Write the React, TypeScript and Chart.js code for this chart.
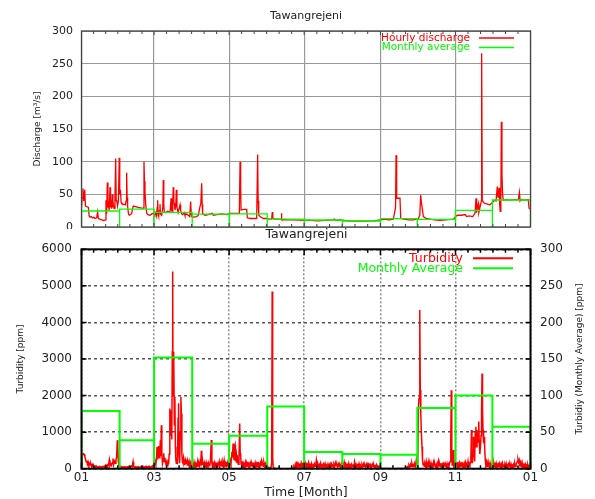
import React, { useEffect, useRef } from 'react';
import { Chart, registerables } from 'chart.js';

Chart.register(...registerables);

const FONT = '"DejaVu Sans", sans-serif';
const TEXT = '#222';
const RED = '#ff0000';
const GREEN = '#00ff00';

// Days of year at which each month starts (Jan .. Dec, then next Jan)
const monthStarts = [0, 31, 59, 90, 120, 151, 181, 212, 243, 273, 304, 334, 365];
// Labelled x ticks (every second month)
const tickDays = [0, 59, 120, 181, 243, 304, 365];
const tickLabels = ['01', '03', '05', '07', '09', '11', '01'];

// Monthly averages
const dischargeMonthly = [24.5, 27.5, 22.5, 19.8, 20, 12.2, 10.7, 9.2, 12.8, 11.7, 25.5, 41.3];
const turbidityMonthly = [79, 39, 152, 34, 45, 85, 23, 20, 19, 83, 100, 57.5];

// Hourly discharge [day, m3/s]
const discharge: [number, number][] = [
  [0, 30], [0.5, 45], [1.2, 59], [1.8, 40], [2.6, 57], [3.2, 32], [4.5, 31], [5.6, 30], [6.2, 17], [7, 15], [8, 16], [9, 14],
  [10, 15], [11, 13], [12.3, 14], [13.1, 23], [13.7, 13], [15, 12], [16.4, 11], [18, 10], [19.5, 11], [19.9, 41], [20.4, 20],
  [21, 68], [21.5, 30], [21.8, 36], [22.5, 25], [23.2, 61], [23.6, 30], [24, 41], [24.5, 28], [25, 50], [25.5, 30], [25.9, 35],
  [26.5, 28], [27.2, 45], [27.8, 105], [28.2, 40], [28.6, 41], [29.3, 32], [30, 40], [30.7, 106], [31.1, 50], [31.6, 57],
  [32.2, 38], [32.7, 36], [34, 35], [35.5, 34], [36.3, 40], [36.7, 83], [37.1, 45], [37.5, 31], [38.2, 20], [38.9, 18], [40, 19],
  [40.8, 21], [41.5, 28], [42.1, 32], [44, 31], [46, 30], [48.9, 29], [50, 29], [50.8, 100], [51.2, 70], [51.6, 54], [52.2, 35],
  [53, 21], [54, 19], [55.7, 18], [57, 20], [58.4, 21], [59.3, 19], [59.7, 18], [60.5, 22], [61.1, 17], [61.5, 30], [61.9, 41],
  [62.3, 20], [62.7, 17], [63.4, 25], [63.8, 35], [64.2, 20], [65.2, 18], [66.1, 30], [66.5, 72], [66.9, 35], [67.3, 23],
  [68.5, 22], [70, 24], [71.9, 23], [72.3, 30], [72.8, 44], [73.2, 25], [73.8, 24], [74.2, 40], [74.6, 61], [75, 38], [75.4, 36],
  [76, 26], [76.6, 32], [77.1, 57], [77.6, 30], [78.5, 22], [80.1, 34], [80.6, 25], [81.4, 20], [82.3, 19], [83.5, 22], [84.1, 18],
  [85.5, 20], [86.8, 18], [88, 16], [88.7, 39], [89.2, 20], [89.6, 16], [91, 15], [93.6, 16], [95, 18], [96.3, 31], [97, 36],
  [97.7, 67], [98.1, 35], [98.5, 20], [99.5, 19], [100.4, 18], [103, 19], [106.3, 21], [107.1, 18], [110, 19], [114, 20],
  [118, 19], [120.7, 21], [124, 21], [128.3, 21], [128.9, 100], [129.4, 60], [129.7, 26], [132, 27], [134.3, 27], [134.8, 14],
  [137, 13], [140, 13], [142.4, 13], [143.2, 111], [143.6, 40], [144.1, 18], [146, 15], [148, 13], [150.6, 13], [152, 12],
  [154.6, 12], [155.1, 23], [155.5, 14], [157, 12], [160, 12], [162.2, 12], [162.5, 21], [162.9, 11], [165, 11.5], [168, 11],
  [172, 11], [177.6, 10.5], [181, 10], [186, 10], [192, 9.5], [198, 10], [204.7, 11], [205.5, 12], [207, 10], [210.1, 11],
  [214, 10], [220, 9], [226, 9.5], [232, 9], [238, 9.5], [242.7, 11], [246, 12], [250, 11], [253.5, 12], [255.3, 30], [255.7, 110],
  [256.2, 44], [258.9, 44], [259.5, 13], [262, 12], [266, 11], [270, 11], [273.8, 13], [275, 18], [275.7, 49], [276.3, 38],
  [277.1, 27], [277.9, 16], [280, 13], [283.3, 12], [287, 11], [291.4, 10], [296, 11], [302.3, 12], [304.2, 16], [305.5, 18],
  [309, 18], [312, 19], [313.1, 16], [315, 17], [318, 16], [319.9, 21], [320.7, 44], [321.2, 22], [321.8, 30], [322.6, 36],
  [323, 22], [323.4, 25], [324.5, 35], [325, 40], [325.3, 266], [325.8, 41], [326.1, 40], [327, 37], [328, 36], [330, 35],
  [332.1, 34], [334.8, 39], [336, 41], [337, 40], [338, 62], [338.6, 45], [339.4, 60], [339.9, 35], [340.4, 24], [340.9, 40],
  [341.3, 161], [341.8, 82], [342.3, 50], [342.9, 41], [345, 42], [348, 41], [352, 42], [355.1, 42], [356, 53], [356.5, 40],
  [357.3, 42], [360, 41], [363.2, 42], [363.8, 29], [364.5, 28],
];

// Turbidity [day, ppm]
const turbidity: [number, number][] = [
  [0, 50], [0.4, 400], [1, 380], [1.6, 410], [2.2, 390], [2.8, 330], [3.3, 250], [3.8, 190], [4.3, 220], [4.8, 120], [5.4, 180],
  [6, 90], [6.5, 140], [7, 100], [7.6, 130], [8.2, 60], [8.8, 110], [9.4, 50], [10, 80], [10.6, 40], [11.2, 70], [11.8, 30],
  [12.4, 60], [13, 40], [13.6, 50], [14.2, 30], [14.8, 60], [15.4, 40], [16, 55], [16.6, 35], [17.2, 60], [17.8, 45], [18.4, 70],
  [19, 40], [19.6, 90], [20.2, 50], [20.8, 100], [21.4, 60], [22, 120], [22.6, 240], [23.1, 80], [23.7, 130], [24.3, 90],
  [25, 160], [25.6, 280], [26.1, 110], [26.8, 200], [27.4, 150], [28, 260], [28.5, 300], [29.1, 780], [29.5, 600], [29.9, 200],
  [30.4, 120], [31, 60], [31.6, 40], [32.2, 60], [32.8, 30], [33.4, 50], [34, 35], [34.6, 55], [35.2, 30], [35.8, 45], [36.4, 25],
  [37, 50], [37.6, 35], [38.2, 60], [38.8, 30], [39.4, 45], [40, 40], [40.6, 70], [41.2, 50], [41.9, 190], [42.4, 60], [43, 40],
  [43.6, 55], [44.2, 30], [44.8, 50], [45.4, 35], [46, 55], [46.6, 30], [47.2, 45], [47.8, 40], [48.4, 60], [49, 35], [49.6, 50],
  [50.2, 30], [50.8, 55], [51.4, 40], [52, 60], [52.6, 35], [53.2, 50], [53.8, 30], [54.4, 60], [55, 40], [55.6, 55], [56.2, 35],
  [56.8, 60], [57.4, 45], [58, 70], [58.6, 50], [59.2, 120], [59.8, 195], [60.4, 100], [61, 300], [61.4, 600], [61.8, 250],
  [62.3, 500], [62.8, 620], [63.2, 300], [63.7, 450], [64.1, 780], [64.5, 350], [64.9, 1190], [65.3, 400], [65.8, 150],
  [66.3, 250], [66.8, 420], [67.3, 200], [67.8, 300], [68.3, 180], [68.8, 100], [69.3, 150], [69.8, 90], [70.3, 250], [70.8, 120],
  [71.3, 400], [71.8, 1645], [72.2, 1200], [72.6, 900], [73, 1600], [73.4, 800], [73.8, 3200], [74.1, 5390], [74.4, 2000],
  [74.8, 3200], [75.1, 3150], [75.5, 1200], [75.9, 1970], [76.3, 600], [76.7, 240], [77.1, 150], [77.5, 300], [78, 120],
  [78.5, 1377], [78.9, 1790], [79.3, 400], [79.8, 150], [80.3, 1000], [80.8, 1970], [81.2, 1500], [81.6, 400], [82, 200],
  [82.5, 150], [83, 300], [83.5, 190], [84, 100], [84.5, 230], [85, 150], [85.5, 250], [86, 100], [86.5, 190], [87, 120],
  [87.5, 200], [88, 90], [88.5, 160], [89, 60], [89.5, 140], [90, 80], [90.5, 150], [91, 60], [91.5, 180], [92, 90], [92.5, 140],
  [93, 50], [93.5, 120], [94, 70], [94.5, 160], [95, 80], [95.5, 130], [96, 60], [96.5, 200], [97, 150], [97.4, 490], [97.8, 100],
  [98.3, 250], [98.8, 120], [99.3, 180], [99.8, 60], [100.3, 140], [100.8, 90], [101.3, 170], [101.8, 70], [102.3, 130],
  [102.8, 60], [103.3, 150], [103.8, 80], [104.3, 120], [104.8, 200], [105.5, 785], [106, 150], [106.5, 60], [107, 140],
  [107.5, 90], [108, 160], [108.5, 50], [109, 130], [109.5, 80], [110, 170], [110.5, 60], [111, 140], [111.5, 100], [112, 190],
  [112.5, 70], [113, 150], [113.5, 90], [114, 130], [114.5, 60], [115, 160], [115.5, 80], [116, 220], [116.5, 100], [117, 140],
  [117.5, 60], [118, 180], [118.5, 90], [119, 130], [119.5, 70], [120, 150], [120.5, 80], [121, 200], [121.5, 120], [122.3, 464],
  [122.7, 300], [123.2, 690], [123.6, 500], [124, 250], [124.4, 600], [124.8, 650], [125.2, 200], [125.9, 373], [126.4, 150],
  [127, 250], [127.5, 120], [128, 200], [128.6, 1236], [129, 418], [129.4, 327], [129.8, 120], [130.3, 200], [130.8, 80],
  [131.3, 150], [131.8, 60], [132.3, 130], [132.8, 90], [133.3, 170], [133.8, 60], [134.3, 140], [134.8, 80], [135.3, 190],
  [135.8, 70], [136.3, 120], [136.8, 50], [137.3, 150], [137.8, 90], [138.3, 130], [138.8, 60], [139.3, 170], [139.8, 80],
  [140.3, 120], [140.8, 50], [141.3, 160], [141.8, 90], [142.3, 140], [142.8, 70], [143.3, 180], [143.8, 60], [144.3, 130],
  [144.8, 90], [145.3, 150], [145.8, 60], [146.3, 200], [146.8, 100], [147.3, 130], [147.8, 70], [148.3, 160], [148.8, 80],
  [149.3, 140], [149.8, 60], [150.3, 120], [150.8, 80], [151.3, 40], [152, 20], [153, 30], [154, 20], [154.6, 150], [155, 4843],
  [155.4, 300], [155.8, 50], [156.5, 20], [157.5, 10], [158.5, 5], [160, 5], [162, 0], [164, 0], [166, 0], [168, 0], [170, 5],
  [172, 10], [172.6, 60], [173.2, 20], [173.8, 120], [174.4, 40], [175, 200], [175.6, 70], [176.2, 130], [176.8, 50],
  [177.4, 110], [178, 60], [178.6, 160], [179.2, 80], [179.8, 120], [180.4, 50], [181, 140], [181.6, 80], [182.2, 150],
  [182.8, 50], [183.4, 120], [184, 70], [184.6, 160], [185.2, 40], [185.8, 110], [186.4, 60], [187, 140], [187.6, 50],
  [188.2, 100], [188.8, 40], [189.4, 130], [190, 70], [190.5, 120], [190.9, 230], [191.4, 90], [192, 140], [192.6, 50],
  [193.2, 110], [193.8, 40], [194.4, 150], [195, 60], [195.6, 100], [196.2, 30], [196.8, 120], [197.4, 60], [198, 140],
  [198.6, 50], [199.2, 90], [199.8, 40], [200.4, 130], [201, 60], [201.6, 110], [202.2, 30], [202.8, 190], [203.4, 70],
  [204, 100], [204.6, 40], [205.2, 120], [205.8, 60], [206.4, 160], [207, 80], [207.6, 110], [208.2, 40], [208.8, 130],
  [209.4, 60], [210, 100], [210.6, 40], [211.2, 140], [211.8, 70], [212.4, 120], [213, 50], [213.6, 180], [214.2, 90],
  [214.8, 130], [215.4, 40], [216, 110], [216.6, 60], [217.2, 140], [217.8, 30], [218.4, 100], [219, 50], [219.6, 120],
  [220.2, 60], [220.8, 90], [221.4, 40], [222, 190], [222.6, 80], [223.2, 120], [223.8, 30], [224.4, 100], [225, 60],
  [225.6, 140], [226.2, 50], [226.8, 90], [227.4, 30], [228, 110], [228.6, 50], [229.2, 130], [229.8, 60], [230.4, 100],
  [231, 40], [231.6, 120], [232.2, 50], [232.8, 170], [233.4, 70], [234, 110], [234.6, 40], [235.2, 90], [235.8, 50],
  [236.4, 120], [237, 60], [237.6, 100], [238.2, 30], [238.8, 80], [239.4, 40], [240, 110], [240.6, 50], [241.2, 70],
  [241.8, 30], [242.4, 60], [243, 20], [244, 10], [246, 5], [250, 5], [254, 0], [258, 5], [262, 10], [264, 20], [265, 60],
  [265.6, 30], [266.2, 90], [266.8, 40], [267.4, 120], [268, 60], [268.6, 150], [269.2, 70], [269.8, 110], [270.4, 50],
  [271, 130], [271.6, 80], [272.2, 240], [272.8, 100], [273.4, 236], [273.9, 1690], [274.4, 1924], [275, 4340], [275.4, 2150],
  [275.8, 1510], [276.3, 964], [276.8, 600], [277.2, 236], [277.7, 100], [278.2, 160], [278.7, 60], [279.2, 140], [279.7, 80],
  [280.2, 190], [280.7, 70], [281.2, 130], [281.7, 50], [282.2, 160], [282.7, 90], [283.2, 120], [283.7, 40], [284.2, 150],
  [284.7, 70], [285.2, 110], [285.7, 50], [286.2, 170], [286.7, 80], [287.2, 130], [287.7, 60], [288.2, 100], [288.7, 40],
  [289.2, 140], [289.7, 70], [290.2, 190], [290.7, 80], [291.2, 120], [291.7, 50], [292.2, 150], [292.7, 60], [293.2, 110],
  [293.7, 40], [294.2, 130], [294.7, 80], [295.2, 170], [295.7, 60], [296.2, 100], [296.7, 50], [297.2, 140], [297.7, 70],
  [298.2, 120], [298.7, 60], [299.2, 160], [299.7, 200], [300.2, 800], [300.6, 2145], [301, 300], [301.4, 100], [301.9, 236],
  [302.3, 510], [302.7, 80], [303.2, 150], [303.7, 60], [304.2, 130], [304.7, 100], [305.2, 180], [305.7, 60], [306.2, 130],
  [306.7, 70], [307.2, 150], [307.7, 50], [308.2, 120], [308.7, 80], [309.2, 190], [309.7, 60], [310.2, 110], [310.7, 40],
  [311.2, 140], [311.7, 70], [312.2, 160], [312.7, 50], [313.2, 120], [313.7, 90], [314.2, 200], [314.7, 60], [315.2, 130],
  [315.7, 80], [316.1, 170], [316.5, 250], [317, 1055], [317.4, 300], [317.8, 150], [318.3, 500], [318.7, 873], [319.1, 400],
  [319.6, 200], [320.1, 1010], [320.6, 1145], [321, 600], [321.5, 1055], [322, 700], [322.5, 900], [322.9, 1290], [323.3, 782],
  [323.8, 400], [324.3, 600], [324.8, 900], [325.2, 1500], [325.6, 2600], [326, 1600], [326.4, 1055], [326.9, 700], [327.3, 875],
  [327.7, 600], [328.2, 250], [328.7, 100], [329.2, 180], [329.7, 60], [330.2, 140], [330.7, 80], [331.2, 120], [331.7, 40],
  [332.2, 150], [332.7, 70], [333.2, 110], [333.7, 50], [334.2, 130], [334.7, 60], [335.2, 160], [335.7, 80], [336.2, 120],
  [336.7, 40], [337.2, 140], [337.7, 70], [338.2, 110], [338.7, 50], [339.2, 170], [339.7, 60], [340.2, 100], [340.7, 40],
  [341.2, 130], [341.7, 80], [342.2, 150], [342.7, 60], [343.2, 120], [343.7, 30], [344.2, 110], [344.7, 60], [345.2, 140],
  [345.7, 50], [346.2, 90], [346.7, 40], [347.2, 120], [347.7, 70], [348.2, 100], [348.7, 30], [349.2, 130], [349.7, 60],
  [350.2, 90], [350.7, 40], [351.2, 110], [351.7, 50], [352.2, 140], [352.7, 70], [353.2, 100], [353.7, 150], [354.3, 200],
  [354.8, 254], [355.3, 180], [355.8, 237], [356.3, 120], [356.8, 160], [357.3, 60], [357.8, 110], [358.3, 40], [358.8, 130],
  [359.3, 70], [359.8, 100], [360.3, 30], [360.8, 120], [361.3, 60], [361.8, 90], [362.3, 40], [362.8, 110], [363.3, 50],
  [363.8, 80], [364.3, 30], [364.8, 60],
];

function boxPoints(vals: number[]) {
  const pts: { x: number; y: number }[] = [];
  vals.forEach((v, i) => {
    const s = monthStarts[i];
    const e = monthStarts[i + 1];
    pts.push({ x: s, y: 0 }, { x: s, y: v }, { x: e, y: v }, { x: e, y: 0 });
  });
  return pts;
}

function minorTickDays() {
  const out: number[] = [];
  for (let i = 0; i < tickDays.length - 1; i++) {
    const a = tickDays[i];
    const b = tickDays[i + 1];
    for (let k = 0; k < 6; k++) out.push(a + ((b - a) * k) / 6);
  }
  out.push(tickDays[tickDays.length - 1]);
  return out;
}

const plainNumber = (v: any) => String(v);

const fixVertical = (width: number) => (s: any) => {
  s.width = width;
  s.paddingTop = 0;
  s.paddingBottom = 0;
};

const decor = {
  id: 'decor',
  afterDatasetsDraw(chart: any, _args: any, o: any) {
    const { ctx, chartArea } = chart;
    const { left, right, top, bottom } = chartArea;
    const xs = chart.scales.x;
    ctx.save();
    // tick marks
    ctx.strokeStyle = o.frameColor;
    ctx.lineWidth = o.tickWidth;
    ctx.beginPath();
    minorTickDays().forEach((d) => {
      const px = xs.getPixelForValue(d);
      const len = tickDays.includes(d) ? o.majorLen : o.minorLen;
      ctx.moveTo(px, bottom);
      ctx.lineTo(px, bottom - len);
      ctx.moveTo(px, top);
      ctx.lineTo(px, top + len);
    });
    if (o.yTickLen) {
      const ys = chart.scales.y;
      ys.ticks.forEach((t: any) => {
        const py = ys.getPixelForValue(t.value);
        ctx.moveTo(left, py);
        ctx.lineTo(left + o.yTickLen, py);
        ctx.moveTo(right, py);
        ctx.lineTo(right - o.yTickLen, py);
      });
    }
    ctx.stroke();
    // frame
    ctx.lineWidth = o.frameWidth;
    ctx.strokeRect(left, top, right - left, bottom - top);
    // title
    ctx.fillStyle = TEXT;
    ctx.font = `${o.titleSize}px ${FONT}`;
    ctx.textAlign = 'center';
    ctx.textBaseline = 'middle';
    ctx.fillText(o.title, o.titleX, o.titleY);
    // legend
    o.legend.forEach((it: any) => {
      ctx.font = `${o.legendSize}px ${FONT}`;
      ctx.fillStyle = it.color;
      ctx.textAlign = 'right';
      ctx.textBaseline = 'middle';
      ctx.fillText(it.text, o.legendTextX, it.y);
      ctx.strokeStyle = it.color;
      ctx.lineWidth = o.legendLineWidth;
      ctx.beginPath();
      ctx.moveTo(o.legendLineX0, it.y);
      ctx.lineTo(o.legendLineX1, it.y);
      ctx.stroke();
    });
    // right axis title (reads bottom to top)
    if (o.rightTitle) {
      ctx.save();
      ctx.translate(o.rightTitle.x, (top + bottom) / 2);
      ctx.rotate(-Math.PI / 2);
      ctx.fillStyle = TEXT;
      ctx.font = `${o.rightTitle.size}px ${FONT}`;
      ctx.textAlign = 'center';
      ctx.textBaseline = 'middle';
      ctx.fillText(o.rightTitle.text, 0, 0);
      ctx.restore();
    }
    ctx.restore();
  },
};

const AREA_LEFT = 81.5;
const AREA_RIGHT_PAD = 64.5;
const TOP_H = 229;
const BOT_TOP = 225;
const BOT_H = 499 - BOT_TOP;

function topConfig(): any {
  return {
    type: 'line',
    data: {
      datasets: [
        {
          label: 'Monthly average',
          data: boxPoints(dischargeMonthly),
          borderColor: GREEN,
          borderWidth: 1.3,
          pointRadius: 0,
          tension: 0,
          fill: false,
          order: 1,
        },
        {
          label: 'Hourly discharge',
          data: discharge.map(([x, y]) => ({ x, y })),
          borderColor: RED,
          borderWidth: 1.3,
          pointRadius: 0,
          tension: 0,
          fill: false,
          order: 2,
        },
      ],
    },
    options: {
      animation: false,
      responsive: false,
      events: [],
      layout: { padding: { left: 0, right: AREA_RIGHT_PAD, top: 31, bottom: 0 } },
      plugins: {
        legend: { display: false },
        tooltip: { enabled: false },
        decor: {
          frameColor: '#444',
          frameWidth: 1.3,
          tickWidth: 1,
          majorLen: 4,
          minorLen: 3,
          yTickLen: 0,
          title: 'Tawangrejeni',
          titleSize: 11,
          titleX: 306,
          titleY: 16.5,
          legendSize: 10.5,
          legendTextX: 470,
          legendLineX0: 479,
          legendLineX1: 514,
          legendLineWidth: 1.3,
          legend: [
            { text: 'Hourly discharge', color: RED, y: 38 },
            { text: 'Monthly average', color: GREEN, y: 47.5 },
          ],
        },
      },
      scales: {
        x: {
          type: 'linear',
          min: 0,
          max: 365,
          afterBuildTicks: (s: any) => {
            s.ticks = tickDays.map((v) => ({ value: v }));
          },
          afterFit: (s: any) => {
            s.height = 2;
          },
          ticks: { display: false },
          grid: { color: '#999', lineWidth: 1.2, drawTicks: false },
          border: { display: false },
        },
        y: {
          min: 0,
          max: 300,
          afterFit: fixVertical(AREA_LEFT),
          ticks: { stepSize: 50, padding: 8.5, color: TEXT, font: { family: FONT, size: 11 }, callback: plainNumber },
          grid: { color: '#999', lineWidth: 1, drawTicks: false },
          border: { display: false },
          title: {
            display: true,
            text: 'Discharge [m³/s]',
            color: TEXT,
            font: { family: FONT, size: 9 },
            padding: { top: 32, bottom: 0 },
          },
        },
      },
    },
    plugins: [decor],
  };
}

function bottomConfig(): any {
  return {
    type: 'line',
    data: {
      datasets: [
        {
          label: 'Monthly Average',
          data: boxPoints(turbidityMonthly),
          yAxisID: 'y1',
          borderColor: GREEN,
          borderWidth: 2,
          pointRadius: 0,
          tension: 0,
          fill: false,
          order: 1,
        },
        {
          label: 'Turbidity',
          data: turbidity.map(([x, y]) => ({ x, y })),
          yAxisID: 'y',
          borderColor: RED,
          borderWidth: 1.5,
          pointRadius: 0,
          tension: 0,
          fill: false,
          order: 2,
        },
      ],
    },
    options: {
      animation: false,
      responsive: false,
      events: [],
      layout: { padding: { left: 0, right: 0, top: 249.3 - BOT_TOP, bottom: 0 } },
      plugins: {
        legend: { display: false },
        tooltip: { enabled: false },
        decor: {
          frameColor: '#000',
          frameWidth: 2,
          tickWidth: 1.5,
          majorLen: 6,
          minorLen: 3.5,
          yTickLen: 5,
          title: 'Tawangrejeni',
          titleSize: 12.5,
          titleX: 306.5,
          titleY: 235 - BOT_TOP,
          legendSize: 12.5,
          legendTextX: 463,
          legendLineX0: 473,
          legendLineX1: 513,
          legendLineWidth: 2,
          legend: [
            { text: 'Turbidity', color: RED, y: 258.3 - BOT_TOP },
            { text: 'Monthly Average', color: GREEN, y: 268.3 - BOT_TOP },
          ],
          rightTitle: { text: 'Turbidiy (Monthly Average) [ppm]', x: 580, size: 9 },
        },
      },
      scales: {
        x: {
          type: 'linear',
          min: 0,
          max: 365,
          afterBuildTicks: (s: any) => {
            s.ticks = tickDays.map((v) => ({ value: v }));
          },
          afterFit: (s: any) => {
            s.height = BOT_H - (468.7 - BOT_TOP);
          },
          ticks: {
            autoSkip: false,
            maxRotation: 0,
            padding: 2,
            color: TEXT,
            font: { family: FONT, size: 12 },
            callback: (_v: any, i: number) => tickLabels[i],
          },
          grid: { color: '#8a8a8a', lineWidth: 1.5, drawTicks: false },
          border: { display: false, dash: [2, 2] },
          title: {
            display: true,
            text: 'Time [Month]',
            color: TEXT,
            font: { family: FONT, size: 12.5, lineHeight: 1 },
            padding: { top: 0, bottom: 0 },
          },
        },
        y: {
          position: 'left',
          min: 0,
          max: 6000,
          afterFit: fixVertical(AREA_LEFT),
          ticks: { stepSize: 1000, padding: 9.5, color: TEXT, font: { family: FONT, size: 12 }, callback: plainNumber },
          grid: { color: '#555', lineWidth: 1.5, drawTicks: false },
          border: { display: false, dash: [3, 3] },
          title: {
            display: true,
            text: 'Turbidity [ppm]',
            color: TEXT,
            font: { family: FONT, size: 9 },
            padding: { top: 15.6, bottom: 0 },
          },
        },
        y1: {
          position: 'right',
          min: 0,
          max: 300,
          afterFit: fixVertical(AREA_RIGHT_PAD),
          ticks: { stepSize: 50, padding: 9.5, color: TEXT, font: { family: FONT, size: 12 }, callback: plainNumber },
          grid: { display: false, drawTicks: false },
          border: { display: false },
        },
      },
    },
    plugins: [decor],
  };
}

export default function App() {
  const topRef = useRef<HTMLCanvasElement | null>(null);
  const botRef = useRef<HTMLCanvasElement | null>(null);

  useEffect(() => {
    const charts: Chart[] = [];
    if (topRef.current) charts.push(new Chart(topRef.current, topConfig()));
    if (botRef.current) charts.push(new Chart(botRef.current, bottomConfig()));
    return () => charts.forEach((c) => c.destroy());
  }, []);

  return (
    <div style={{ position: 'absolute', left: 0, top: 0, width: 595, height: 499, background: '#fff', overflow: 'hidden' }}>
      <canvas
        ref={topRef}
        width={595}
        height={TOP_H}
        style={{ position: 'absolute', left: 0, top: 0, width: 595, height: TOP_H }}
      />
      <canvas
        ref={botRef}
        width={595}
        height={BOT_H}
        style={{ position: 'absolute', left: 0, top: BOT_TOP, width: 595, height: BOT_H }}
      />
    </div>
  );
}
